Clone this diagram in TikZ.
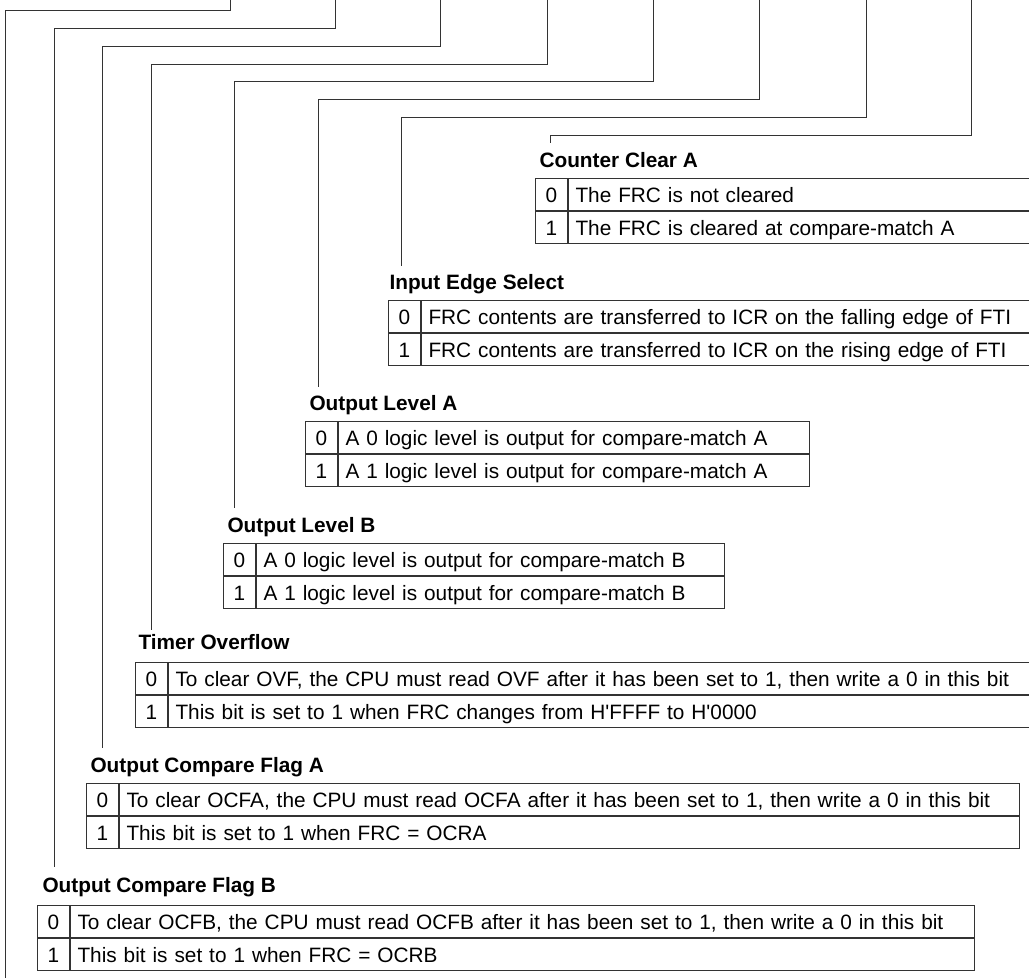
\documentclass[tikz,border=0pt]{standalone}
\usepackage{fontspec}
\setmainfont{Liberation Sans}
\tikzset{
  bitbox/.style={draw=black!80, line width=1pt, anchor=north west, minimum width=32, minimum height=32, inner sep=0, text height=15, text depth=0},
  descbox/.style={draw=black!80, line width=1pt, anchor=north west, minimum height=32, text width=#1, inner xsep=7, inner ysep=0, text height=15, text depth=0, align=left},
  heading/.style={anchor=base west, font=\fontsize{20.8}{25}\selectfont\bfseries},
  lead/.style={draw=black!80, line width=1pt}
}
\begin{document}
\begin{tikzpicture}[x=1pt, y=-1pt, font=\fontsize{20.8}{25}\selectfont]
\clip (0,0) rectangle (1029,978);
% bit lines from the register above
\coordinate (ic) at (230,0);
\coordinate (fb) at (335,0);
\coordinate (fa) at (440,0);
\coordinate (ov) at (547,0);
\coordinate (lb) at (653,0);
\coordinate (la) at (759,0);
\coordinate (ie) at (866,0);
\coordinate (cc) at (971,0);
\coordinate (ic-end) at (5,978);
\coordinate (fb-end) at (54,867);
\coordinate (fa-end) at (102,748);
\coordinate (ov-end) at (151,630);
\coordinate (lb-end) at (234,508);
\coordinate (la-end) at (318,387);
\coordinate (ie-end) at (401,266);
\coordinate (cc-end) at (550,143);
\draw[lead] (ic) -- ++(0,10) -| (ic-end);
\draw[lead] (fb) -- ++(0,28) -| (fb-end);
\draw[lead] (fa) -- ++(0,46) -| (fa-end);
\draw[lead] (ov) -- ++(0,64) -| (ov-end);
\draw[lead] (lb) -- ++(0,81) -| (lb-end);
\draw[lead] (la) -- ++(0,99) -| (la-end);
\draw[lead] (ie) -- ++(0,117) -| (ie-end);
\draw[lead] (cc) -- ++(0,135) -| (cc-end);

% Counter Clear A
\node[heading] (cc-t) at (536,167) {Counter Clear A};
\node[bitbox] (cc0) at (535,178) {0};
\node[descbox=459] (cc0d) at (cc0.north east) {The FRC is not cleared};
\node[bitbox] (cc1) at (cc0.south west) {1};
\node[descbox=459] (cc1d) at (cc1.north east) {The FRC is cleared at compare-match A};

% Input Edge Select
\node[heading] (ie-t) at (386,289) {Input Edge Select};
\node[bitbox] (ie0) at (388,300) {0};
\node[descbox=606] (ie0d) at (ie0.north east) {FRC contents are transferred to ICR on the falling edge of FTI};
\node[bitbox] (ie1) at (ie0.south west) {1};
\node[descbox=606] (ie1d) at (ie1.north east) {FRC contents are transferred to ICR on the rising edge of FTI};

% Output Level A
\node[heading] (la-t) at (306,410) {Output Level A};
\node[bitbox] (la0) at (305,421) {0};
\node[descbox=457] (la0d) at (la0.north east) {A 0 logic level is output for compare-match A};
\node[bitbox] (la1) at (la0.south west) {1};
\node[descbox=457] (la1d) at (la1.north east) {A 1 logic level is output for compare-match A};

% Output Level B
\node[heading] (lb-t) at (224,532) {Output Level B};
\node[bitbox] (lb0) at (223,543) {0};
\node[descbox=454] (lb0d) at (lb0.north east) {A 0 logic level is output for compare-match B};
\node[bitbox] (lb1) at (lb0.south west) {1};
\node[descbox=454] (lb1d) at (lb1.north east) {A 1 logic level is output for compare-match B};

% Timer Overflow
\node[heading] (ov-t) at (135,649) {Timer Overflow};
\node[bitbox] (ov0) at (135,662) {0};
\node[descbox=859] (ov0d) at (ov0.north east) {To clear OVF, the CPU must read OVF after it has been set to 1, then write a 0 in this bit};
\node[bitbox] (ov1) at (ov0.south west) {1};
\node[descbox=859] (ov1d) at (ov1.north east) {This bit is set to 1 when FRC changes from H\textquotesingle FFFF to H\textquotesingle 0000};

% Output Compare Flag A
\node[heading] (fa-t) at (87,772) {Output Compare Flag A};
\node[bitbox] (fa0) at (86,783) {0};
\node[descbox=886] (fa0d) at (fa0.north east) {To clear OCFA, the CPU must read OCFA after it has been set to 1, then write a 0 in this bit};
\node[bitbox] (fa1) at (fa0.south west) {1};
\node[descbox=886] (fa1d) at (fa1.north east) {This bit is set to 1 when FRC = OCRA};

% Output Compare Flag B
\node[heading] (fb-t) at (39,892) {Output Compare Flag B};
\node[bitbox] (fb0) at (37,905) {0};
\node[descbox=890] (fb0d) at (fb0.north east) {To clear OCFB, the CPU must read OCFB after it has been set to 1, then write a 0 in this bit};
\node[bitbox] (fb1) at (fb0.south west) {1};
\node[descbox=890] (fb1d) at (fb1.north east) {This bit is set to 1 when FRC = OCRB};
\end{tikzpicture}
\end{document}
